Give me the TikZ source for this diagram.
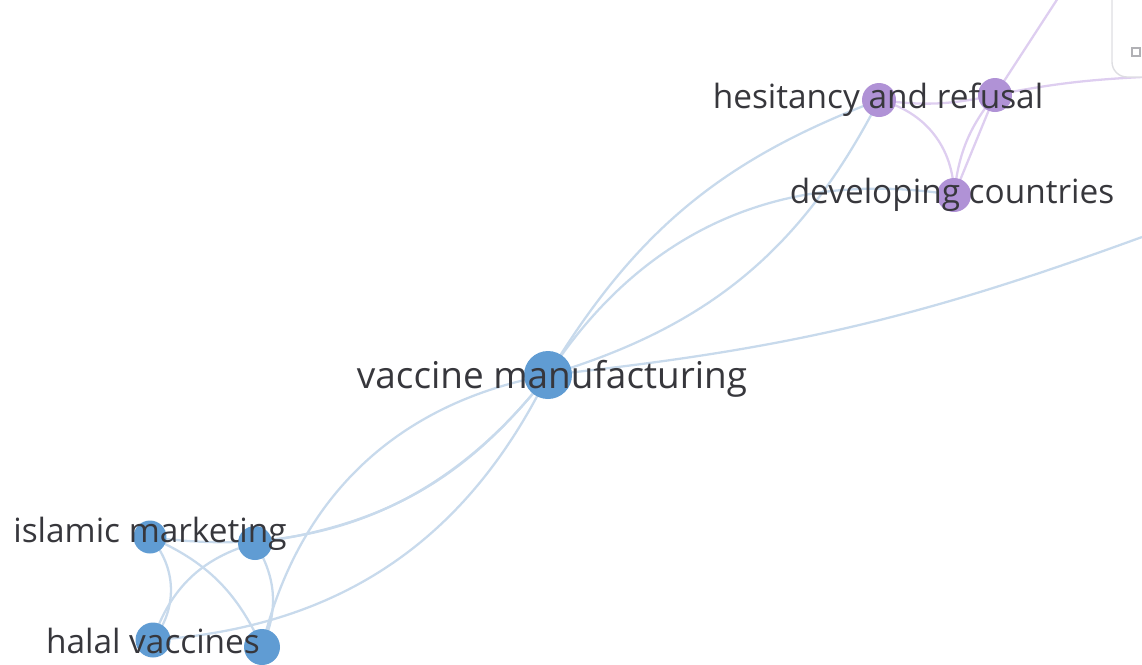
\documentclass[tikz,border=0pt]{standalone}
\usepackage{fontspec}
\setmainfont{Open Sans}
\usepackage{tikz}
\usetikzlibrary{backgrounds,calc}

\definecolor{bubblue}{RGB}{96,156,211}
\definecolor{bubpurple}{RGB}{176,146,214}
\definecolor{edgeblue}{RGB}{200,218,236}
\definecolor{edgepurple}{RGB}{222,206,240}
\definecolor{labgray}{RGB}{55,55,60}
\definecolor{boxgray}{RGB}{222,222,226}

\begin{document}
\begin{tikzpicture}[x=0.02cm, y=-0.02cm,
    bubble/.style={circle, inner sep=0pt, fill=#1},
    lbl/.style={font=\fontsize{19pt}{22pt}\selectfont, text=labgray, inner sep=0pt, anchor=base},
    bedge/.style={draw=edgeblue, line width=1.3pt},
    pedge/.style={draw=edgepurple, line width=1.3pt}]
      \useasboundingbox (0,0) rectangle (1142,664);
      \clip (0,0) rectangle (1142,664);

      % Bubbles
      \node[bubble=bubblue, minimum size=0.96cm] (vm) at (548,375) {};
      \node[bubble=bubpurple, minimum size=0.68cm] (hes) at (879,100) {};
      \node[bubble=bubpurple, minimum size=0.68cm] (hes2) at (995,95) {};
      \node[bubble=bubpurple, minimum size=0.68cm] (dev) at (954,195) {};
      \node[bubble=bubblue, minimum size=0.66cm] (im) at (150,537) {};
      \node[bubble=bubblue, minimum size=0.68cm] (im2) at (255,543) {};
      \node[bubble=bubblue, minimum size=0.70cm] (hv) at (153,640) {};
      \node[bubble=bubblue, minimum size=0.72cm] (hv2) at (262,647) {};

      % Ends of links that leave the view
      \coordinate (offtop) at (1060,-5);
      \coordinate (offbox) at (1142,77);
      \coordinate (offright) at (1142,237);

      % Links
      \begin{scope}[on background layer]
        \draw[bedge] (vm.center) to[bend left=19] (hes.center);
        \draw[bedge] (vm.center) to[bend right=23] (hes.center);
        \draw[bedge] (vm.center) to[bend left=33] (dev.center);
        \draw[bedge] (vm.center) to[bend right=7] (offright);
        \draw[bedge] (vm.center) to[bend left=22] (im2.center);
        \draw[bedge] (vm.center) to[bend left=30] (im.center);
        \draw[bedge] (vm.center) to[bend right=33] (hv2.center);
        \draw[bedge] (vm.center) to[bend left=30] (hv.center);
        \draw[bedge] (im.center) to[bend left=40] (hv.center);
        \draw[bedge] (im.center) to[bend left=21] (hv2.center);
        \draw[bedge] (im2.center) to[bend right=28] (hv.center);
        \draw[bedge] (im2.center) to[bend left=28] (hv2.center);

        \draw[pedge] (hes.center) to[bend right=10] (hes2.center);
        \draw[pedge] (hes.center) to[bend left=38] (dev.center);
        \draw[pedge] (hes2.center) to[bend right=16] (dev.center);
        \draw[pedge] (hes2.center) -- (dev.center);
        \draw[pedge] (hes2.center) -- (offtop);
        \draw[pedge] (hes2.center) to[bend left=4] (offbox);
      \end{scope}

      % Labels
      \node[lbl, font=\fontsize{21pt}{24pt}\selectfont] (vm-l) at (552,388) {vaccine manufacturing};
      \node[lbl] (hes-l) at (878,108) {hesitancy and refusal};
      \node[lbl] (dev-l) at (952,203) {developing countries};
      \node[lbl] (im-l) at (150,542) {islamic marketing};
      \node[lbl] (hv-l) at (153,653) {halal vaccines};

      % Corner of the panel at the top right
      \draw[boxgray, fill=white, line width=0.8pt, rounded corners=0.3cm]
        (1112,-20) -- (1112,77) -- (1170,77);
      \draw[boxgray!80!black, line width=0.6pt] (1132,48) rectangle (1140,56);
    \end{tikzpicture}
\end{document}
